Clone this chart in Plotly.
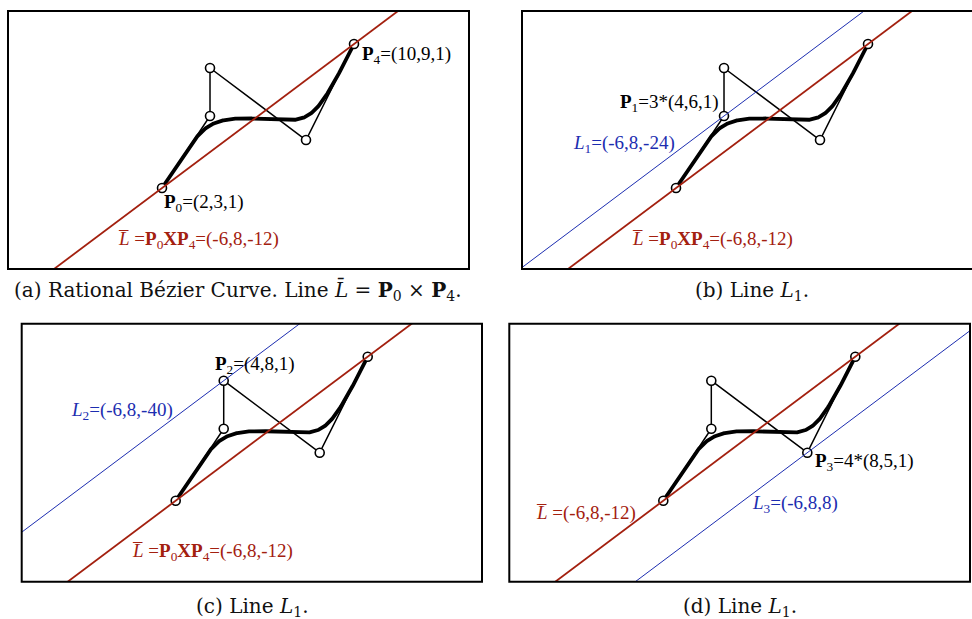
import numpy as np
import plotly.graph_objects as go
from math import comb

# ---- data ----
ctrl_x = [2, 4, 4, 8, 10]
ctrl_y = [3, 6, 8, 5, 9]
weights = [1, 3, 1, 4, 1]
# homogeneous lines a*x + b*y + c = 0
line_Lbar = (-6, 8, -12)
line_L1 = (-6, 8, -24)
line_L2 = (-6, 8, -40)
line_L3 = (-6, 8, 8)

RED = "#A3200F"
BLUE = "#1C2DB0"
W, H = 972, 619

# panel pixel boxes (left, right, top, bottom)
panels = [
    (8, 469, 11, 269),
    (522, 972, 11, 269),
    (21.7, 482, 323.7, 581.7),
    (509.3, 970, 323.7, 581.7),
]
XMIN, YMIN, YMAX = -4.417, -0.375, 10.375
SCALE = 24.0

# rational Bezier curve
t = np.linspace(0, 1, 300)
n = len(ctrl_x) - 1
B = np.array([comb(n, i) * t**i * (1 - t)**(n - i) for i in range(n + 1)])
wB = np.array(weights)[:, None] * B
den = wB.sum(axis=0)
cx = (np.array(ctrl_x)[:, None] * wB).sum(axis=0) / den
cy = (np.array(ctrl_y)[:, None] * wB).sum(axis=0) / den

fig = go.Figure()


def line_pts(coef, x0, x1):
    a, b, c = coef
    xs = np.array([x0, x1])
    return xs, -(a * xs + c) / b


extra_lines = [None, line_L1, line_L2, line_L3]

for k, (l, r, tp, bt) in enumerate(panels):
    sfx = "" if k == 0 else str(k + 1)
    xmax = XMIN + (r - l) / SCALE
    xa = "x" + sfx
    ya = "y" + sfx
    fig.update_layout(**{
        "xaxis" + sfx: dict(domain=[l / W, r / W], range=[XMIN, xmax], visible=False,
                            anchor=ya, fixedrange=True),
        "yaxis" + sfx: dict(domain=[1 - bt / H, 1 - tp / H], range=[YMIN, YMAX], visible=False,
                            anchor=xa, fixedrange=True),
    })
    fig.add_trace(go.Scatter(x=ctrl_x, y=ctrl_y, mode="lines", xaxis=xa, yaxis=ya,
                             line=dict(color="black", width=1.5), showlegend=False, hoverinfo="skip"))
    fig.add_trace(go.Scatter(x=cx, y=cy, mode="lines", xaxis=xa, yaxis=ya,
                             line=dict(color="black", width=3.8), showlegend=False, hoverinfo="skip"))
    fig.add_trace(go.Scatter(x=ctrl_x, y=ctrl_y, mode="markers", xaxis=xa, yaxis=ya,
                             marker=dict(symbol="circle", size=9, color="white",
                                         line=dict(color="black", width=1.6)),
                             showlegend=False, hoverinfo="skip"))
    lx, ly = line_pts(line_Lbar, XMIN - 5, xmax + 5)
    fig.add_trace(go.Scatter(x=lx, y=ly, mode="lines", xaxis=xa, yaxis=ya,
                             line=dict(color=RED, width=1.8), showlegend=False, hoverinfo="skip"))
    if extra_lines[k] is not None:
        lx, ly = line_pts(extra_lines[k], XMIN - 5, xmax + 5)
        fig.add_trace(go.Scatter(x=lx, y=ly, mode="lines", xaxis=xa, yaxis=ya,
                                 line=dict(color=BLUE, width=1.0), showlegend=False, hoverinfo="skip"))
    x1 = 1.05 if k == 1 else 1
    fig.add_shape(type="rect", xref=xa + " domain", yref=ya + " domain", x0=0, x1=x1, y0=0, y1=1,
                  line=dict(color="black", width=2), layer="above")

LBAR = "<i>L\u0305</i>"
labels = [
    (0, 10.25, 8.54, "<b>P</b><sub>4</sub>=(10,9,1)", "black"),
    (0, 2.0, 2.375, "<b>P</b><sub>0</sub>=(2,3,1)", "black"),
    (0, 0.083, 0.833, LBAR + " =<b>P</b><sub>0</sub><b>XP</b><sub>4</sub>=(-6,8,-12)", RED),
    (1, -0.417, 6.54, "<b>P</b><sub>1</sub>=3*(4,6,1)", "black"),
    (1, -2.375, 4.83, "<i>L</i><sub>1</sub>=(-6,8,-24)", BLUE),
    (1, 0.083, 0.833, LBAR + " =<b>P</b><sub>0</sub><b>XP</b><sub>4</sub>=(-6,8,-12)", RED),
    (2, 3.55, 8.65, "<b>P</b><sub>2</sub>=(4,8,1)", "black"),
    (2, -2.45, 6.74, "<i>L</i><sub>2</sub>=(-6,8,-40)", BLUE),
    (2, 0.096, 0.86, LBAR + " =<b>P</b><sub>0</sub><b>XP</b><sub>4</sub>=(-6,8,-12)", RED),
    (3, 8.25, 4.6, "<b>P</b><sub>3</sub>=4*(8,5,1)", "black"),
    (3, 5.6, 2.86, "<i>L</i><sub>3</sub>=(-6,8,8)", BLUE),
    (3, -3.4, 2.49, LBAR + " =(-6,8,-12)", RED),
]
for p, x, y, txt, col in labels:
    sfx = "" if p == 0 else str(p + 1)
    fig.add_annotation(x=x, y=y, xref="x" + sfx, yref="y" + sfx, text=txt, showarrow=False,
                       xanchor="left", yanchor="middle",
                       font=dict(family="Liberation Serif", size=19, color=col))

captions = [
    (237, 291, "(a) Rational Bézier Curve. Line <i>L\u0304</i> = <b>P</b><sub>0</sub> × <b>P</b><sub>4</sub>."),
    (752, 291, "(b) Line <i>L</i><sub>1</sub>."),
    (252, 607, "(c) Line <i>L</i><sub>1</sub>."),
    (740, 607, "(d) Line <i>L</i><sub>1</sub>."),
]
for cxp, cyp, txt in captions:
    fig.add_annotation(x=cxp / W, y=1 - cyp / H, xref="paper", yref="paper", text=txt,
                       showarrow=False, xanchor="center", yanchor="middle",
                       font=dict(family="DejaVu Serif", size=20, color="#111111"))

fig.update_layout(width=W, height=H, margin=dict(l=0, r=0, t=0, b=0),
                  paper_bgcolor="white", plot_bgcolor="white", showlegend=False)
fig.write_html("out.html", config={"displayModeBar": False, "staticPlot": True},
               post_script="document.body.style.margin='0';document.body.style.overflow='hidden';")
